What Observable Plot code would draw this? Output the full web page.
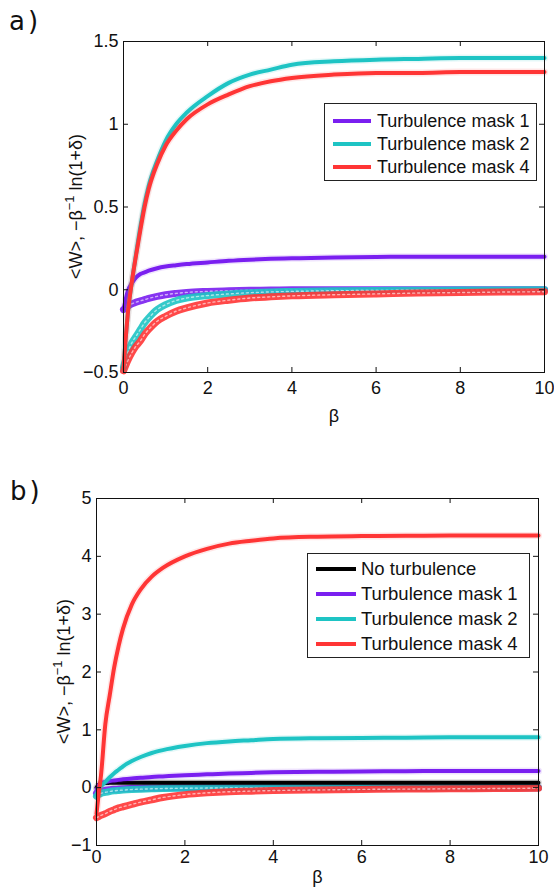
<!DOCTYPE html>
<html>
<head>
<meta charset="utf-8">
<script src="https://cdn.jsdelivr.net/npm/d3@7"></script>
<script src="https://cdn.jsdelivr.net/npm/@observablehq/plot@0.6"></script>
<style>
  html, body { margin: 0; padding: 0; background: #fff; }
  #page { position: relative; width: 554px; height: 888px; overflow: hidden; font-family: "Liberation Sans", Arial, sans-serif; }
  .panel { position: absolute; left: 0; }
  .tag { position: absolute; font-family: "DejaVu Sans", sans-serif; font-size: 26px; line-height: 30px; letter-spacing: 3px; color: #111; }
  .legend { position: absolute; border: 1px solid #222; background: #fff; box-sizing: border-box; }
  .row { position: absolute; display: flex; align-items: center; white-space: nowrap; color: #111; }
  .swatch { height: 4px; }
</style>
</head>
<body>
<div id="page"></div>
<script>
// β sample points shared by every series
const beta = [0, 0.05, 0.1, 0.2, 0.3, 0.4, 0.5, 0.6, 0.8, 1, 1.25, 1.5, 2, 2.5, 3, 3.5, 4, 5, 6, 7, 8, 9, 10];

// Panel a: <W> (solid lines)
const aMask1W = [-0.12, -0.06, -0.01, 0.04, 0.075, 0.095, 0.105, 0.115, 0.13, 0.14, 0.148, 0.155, 0.165, 0.175, 0.182, 0.187, 0.19, 0.195, 0.198, 0.2, 0.2, 0.2, 0.2];
const aMask2W = [-0.48, -0.3, -0.15, 0.05, 0.22, 0.38, 0.52, 0.63, 0.78, 0.9, 1.0, 1.07, 1.17, 1.25, 1.3, 1.33, 1.36, 1.38, 1.39, 1.395, 1.4, 1.4, 1.4];
const aMask4W = [-0.48, -0.3, -0.15, 0.05, 0.21, 0.36, 0.5, 0.61, 0.76, 0.87, 0.96, 1.03, 1.12, 1.18, 1.23, 1.26, 1.28, 1.3, 1.31, 1.31, 1.315, 1.315, 1.315];
// Panel a: −β⁻¹ ln(1+δ) (circle markers)
const aMask1D = [-0.12, -0.11, -0.1, -0.085, -0.075, -0.067, -0.06, -0.052, -0.04, -0.03, -0.022, -0.016, -0.01, -0.006, -0.003, -0.002, 0, 0, 0, 0, 0, 0, 0];
const aMask2D = [-0.47, -0.42, -0.38, -0.32, -0.28, -0.24, -0.2, -0.17, -0.12, -0.09, -0.065, -0.05, -0.035, -0.025, -0.018, -0.013, -0.01, -0.006, -0.004, -0.003, -0.002, -0.001, 0];
const aMask4D = [-0.49, -0.46, -0.43, -0.38, -0.34, -0.31, -0.27, -0.24, -0.19, -0.16, -0.13, -0.11, -0.08, -0.063, -0.05, -0.043, -0.037, -0.03, -0.025, -0.02, -0.017, -0.014, -0.012];

// Panel b: <W> (solid lines)
const bNoTurbW = [0, 0.05, 0.07, 0.08, 0.083, 0.085, 0.085, 0.085, 0.085, 0.085, 0.085, 0.085, 0.085, 0.085, 0.085, 0.085, 0.085, 0.085, 0.085, 0.085, 0.085, 0.085, 0.085];
const bMask1W = [-0.05, 0.04, 0.08, 0.1, 0.115, 0.125, 0.135, 0.145, 0.16, 0.17, 0.185, 0.195, 0.215, 0.23, 0.245, 0.255, 0.265, 0.275, 0.28, 0.285, 0.29, 0.29, 0.29];
const bMask2W = [-0.12, -0.03, 0.02, 0.1, 0.18, 0.25, 0.31, 0.37, 0.46, 0.53, 0.6, 0.65, 0.72, 0.77, 0.8, 0.82, 0.84, 0.855, 0.86, 0.865, 0.87, 0.87, 0.87];
const bMask4W = [-0.45, -0.1, 0.2, 1.1, 1.6, 2.08, 2.45, 2.75, 3.17, 3.43, 3.65, 3.8, 4.0, 4.13, 4.22, 4.27, 4.31, 4.34, 4.35, 4.355, 4.36, 4.36, 4.36];
// Panel b: −β⁻¹ ln(1+δ) (circle markers)
const bMask1D = [-0.1, -0.08, -0.06, -0.045, -0.035, -0.028, -0.022, -0.018, -0.012, -0.008, -0.005, -0.003, -0.001, 0, 0, 0, 0, 0, 0, 0, 0, 0, 0];
const bMask2D = [-0.15, -0.12, -0.1, -0.08, -0.065, -0.055, -0.048, -0.042, -0.033, -0.026, -0.02, -0.016, -0.01, -0.007, -0.005, -0.004, -0.003, -0.002, -0.001, 0, 0, 0, 0];
const bMask4D = [-0.52, -0.5, -0.48, -0.45, -0.41, -0.38, -0.35, -0.33, -0.29, -0.25, -0.21, -0.17, -0.12, -0.09, -0.07, -0.06, -0.05, -0.04, -0.03, -0.025, -0.02, -0.015, -0.01];

// Axis ticks
const xTicks = [0, 2, 4, 6, 8, 10];
const aYTicks = [-0.5, 0, 0.5, 1, 1.5];
const bYTicks = [-1, 0, 1, 2, 3, 4, 5];

// Legend entries
const aLegend = ["Turbulence mask 1", "Turbulence mask 2", "Turbulence mask 4"];
const bLegend = ["No turbulence", "Turbulence mask 1", "Turbulence mask 2", "Turbulence mask 4"];

const colors = {
  "No turbulence": "#000000",
  "Turbulence mask 1": "#7a1ff0",
  "Turbulence mask 2": "#1ec4c4",
  "Turbulence mask 4": "#ff3535"
};

const toRows = (vals) => beta.map((b, i) => ({beta: b, v: vals[i]}));
const fmt = d => (d < 0 ? "\u2212" + Math.abs(d) : String(d));

function solid(vals, color) {
  const rows = toRows(vals);
  return [
    Plot.line(rows, {x: "beta", y: "v", stroke: color, strokeWidth: 7, strokeOpacity: 0.12, curve: "monotone-x"}),
    Plot.line(rows, {x: "beta", y: "v", stroke: color, strokeWidth: 4, curve: "monotone-x"})
  ];
}
function circles(vals, color) {
  const rows = toRows(vals);
  return [
    Plot.line(rows, {x: "beta", y: "v", stroke: color, strokeWidth: 7, strokeOpacity: 0.9, curve: "monotone-x"}),
    Plot.line(rows, {x: "beta", y: "v", stroke: "#fff", strokeWidth: 1.4, strokeOpacity: 0.6, strokeDasharray: "2,3", curve: "monotone-x"})
  ];
}

function panel({height, mt, mb, ml, mr, yDomain, yTicks, xPad, labelDy, ylabelX, layers}) {
  const fw = 554 - ml - mr, fh = height - mt - mb, t = 5;
  const svg = Plot.plot({
    width: 554, height,
    marginTop: mt, marginBottom: mb, marginLeft: ml, marginRight: mr,
    style: {fontFamily: "Liberation Sans, Arial, sans-serif", fontSize: "18px", color: "#111", background: "transparent"},
    x: {domain: [0, 10]},
    y: {domain: yDomain},
    marks: [
      ...layers,
      Plot.frame({stroke: "#111", strokeWidth: 1}),
      // inward tick marks on all four sides
      Plot.ruleX(xTicks, {stroke: "#111", insetTop: fh - t}),
      Plot.ruleX(xTicks, {stroke: "#111", insetBottom: fh - t}),
      Plot.ruleY(yTicks, {stroke: "#111", insetRight: fw - t}),
      Plot.ruleY(yTicks, {stroke: "#111", insetLeft: fw - t}),
      Plot.axisX(xTicks, {tickSize: 0, tickPadding: xPad, tickFormat: fmt, fontSize: 18, label: null}),
      Plot.axisY(yTicks, {tickSize: 0, tickPadding: 5, tickFormat: fmt, fontSize: 18, label: null}),
      Plot.text(["\u03b2"], {frameAnchor: "bottom", dy: labelDy, text: d => d, fontSize: 18, fill: "#111"})
    ]
  });
  // rotated y-axis title with a superscript exponent
  const cy = mt + fh / 2;
  const lbl = d3.select(svg).append("text")
    .attr("transform", `translate(${ylabelX},${cy}) rotate(-90)`)
    .attr("text-anchor", "middle")
    .attr("font-size", 18)
    .attr("fill", "#111")
    .attr("font-family", "Liberation Sans, Arial, sans-serif");
  lbl.append("tspan").text("<W>, \u2212\u03b2");
  lbl.append("tspan").attr("font-size", 13).attr("dy", -8).text("\u22121");
  lbl.append("tspan").attr("dy", 8).text(" ln(1+\u03b4)");
  return svg;
}

const page = document.getElementById("page");

const svgA = panel({
  height: 430, mt: 41, mb: 58, ml: 123, mr: 10,
  yDomain: [-0.5, 1.5], yTicks: aYTicks, xPad: 9, labelDy: 49, ylabelX: 82,
  layers: [
    ...circles(aMask1D, colors["Turbulence mask 1"]),
    ...circles(aMask2D, colors["Turbulence mask 2"]),
    ...circles(aMask4D, colors["Turbulence mask 4"]),
    ...solid(aMask1W, colors["Turbulence mask 1"]),
    ...solid(aMask2W, colors["Turbulence mask 2"]),
    ...solid(aMask4W, colors["Turbulence mask 4"])
  ]
});
svgA.classList.add("panel");
svgA.style.top = "0px";
page.appendChild(svgA);

const svgB = panel({
  height: 438, mt: 48, mb: 43, ml: 96, mr: 16,
  yDomain: [-1, 5], yTicks: bYTicks, xPad: 5, labelDy: 37, ylabelX: 70,
  layers: [
    ...circles(bMask1D, colors["Turbulence mask 1"]),
    ...circles(bMask2D, colors["Turbulence mask 2"]),
    ...circles(bMask4D, colors["Turbulence mask 4"]),
    ...solid(bNoTurbW, colors["No turbulence"]),
    ...solid(bMask1W, colors["Turbulence mask 1"]),
    ...solid(bMask2W, colors["Turbulence mask 2"]),
    ...solid(bMask4W, colors["Turbulence mask 4"])
  ]
});
svgB.classList.add("panel");
svgB.style.top = "450px";
page.appendChild(svgB);

function tag(text, left, top) {
  const d = document.createElement("div");
  d.className = "tag";
  d.textContent = text;
  d.style.left = left + "px";
  d.style.top = top + "px";
  page.appendChild(d);
}
tag("a)", 9, 6);
tag("b)", 10, 476);

function legend(names, {left, top, width, height, rowTop, rowStep, lineLeft, lineWidth, textGap, fontSize}) {
  const box = document.createElement("div");
  box.className = "legend";
  Object.assign(box.style, {left: left + "px", top: top + "px", width: width + "px", height: height + "px"});
  names.forEach((name, i) => {
    const row = document.createElement("div");
    row.className = "row";
    Object.assign(row.style, {left: lineLeft + "px", top: (rowTop + i * rowStep) + "px", height: "0px", fontSize: fontSize + "px"});
    const sw = document.createElement("div");
    sw.className = "swatch";
    Object.assign(sw.style, {width: lineWidth + "px", background: colors[name], marginRight: textGap + "px"});
    const tx = document.createElement("span");
    tx.textContent = name;
    row.appendChild(sw);
    row.appendChild(tx);
    box.appendChild(row);
  });
  page.appendChild(box);
}
legend(aLegend, {left: 324, top: 103, width: 213, height: 78, rowTop: 17, rowStep: 23, lineLeft: 8, lineWidth: 38, textGap: 6, fontSize: 18});
legend(bLegend, {left: 307, top: 553, width: 223, height: 105, rowTop: 15, rowStep: 25, lineLeft: 8, lineWidth: 40, textGap: 5, fontSize: 18.5});
</script>
</body>
</html>
